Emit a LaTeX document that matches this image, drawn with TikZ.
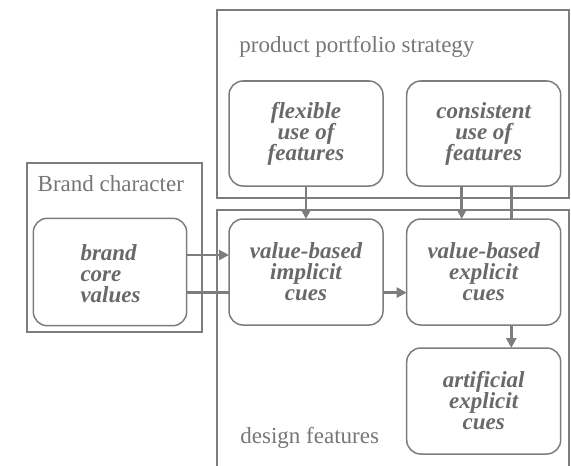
\documentclass[tikz,border=0pt]{standalone}
\usepackage{fontspec}
\setmainfont{Liberation Serif}
\usetikzlibrary{fit,arrows.meta}
\definecolor{linegray}{RGB}{125,125,125}
\definecolor{textgray}{RGB}{105,105,105}
\definecolor{titlegray}{RGB}{118,118,118}
\newcommand{\cuefont}{\fontsize{11.5}{10.5}\selectfont\lineskiplimit=-20pt\bfseries\itshape}
\begin{document}
\begin{tikzpicture}[x=0.5pt,y=-0.5pt,
  frame/.style={draw=linegray,line width=1pt,inner sep=0pt,outer sep=0pt},
  cue/.style={draw=linegray,line width=0.75pt,rounded corners=7pt,inner sep=0pt,outer sep=0pt},
  cuetext/.style={text width=70pt,align=flush center,inner sep=0pt,text=textgray,font=\cuefont},
  title/.style={text=titlegray,font=\fontsize{11.5}{13}\selectfont,inner sep=0pt,anchor=base west},
  link/.style={draw=linegray,line width=1.3pt},
  arrow/.style={link,-{Triangle[length=5pt,width=5pt]}}]
\useasboundingbox (0,0) rectangle (571,465);
\clip (0,0) rectangle (571,465);
% containers
\node[frame,fit={(216.7,10) (569,198)}] (pps) {};
\node[frame,fit={(26.7,162.7) (201.7,331.7)}] (bc) {};
\node[frame,fit={(216.7,210) (569,490)}] (df) {};
\node[title] (ppsT) at (239,53) {product portfolio strategy};
\node[title] (bcT) at (37.3,191.5) {Brand character};
\node[title] (dfT) at (240,443) {design features};
% cues
\node[cue,fit={(229,81) (383,186)}] (flex) {};
\node[cue,fit={(406.7,81) (560.7,186)}] (cons) {};
\node[cue,fit={(33.3,218.3) (186.7,325.7)}] (bcv) {};
\node[cue,fit={(229,219) (383,325)}] (impl) {};
\node[cue,fit={(406.7,219) (560.7,325)}] (expl) {};
\node[cue,fit={(406.7,348) (560.7,454)}] (art) {};
\node[cuetext] (flexT) at (flex.center) {flexible\\use of\\features};
\node[cuetext] (consT) at (cons.center) {consistent\\use of\\features};
\node[cuetext,text width=29.5pt,align=flush left] (bcvT) at ([yshift=-1pt]bcv.center) {brand\\core\\values};
\node[cuetext] (implT) at (impl.center) {value-based\\implicit\\cues};
\node[cuetext] (explT) at (expl.center) {value-based\\explicit\\cues};
\node[cuetext] (artT) at (art.center) {artificial\\explicit\\cues};
% connectors
\draw[arrow] (flex.south) -- (impl.north);
\draw[arrow] ([xshift=-11pt]cons.south) -- ([xshift=-11pt]expl.north);
\draw[link] ([xshift=13.8pt]cons.south) -- ([xshift=13.8pt]expl.north);
\draw[arrow] ([xshift=13.8pt]expl.south) -- ([xshift=13.8pt]art.north);
\draw[arrow] ([yshift=-10.3pt]impl.east) -- ([yshift=-10.3pt]expl.west);
\draw[arrow] ([yshift=8.5pt]bcv.east) -- ([yshift=8.5pt]impl.west);
\draw[link] ([yshift=-10.3pt]bcv.east) -- ([yshift=-10.3pt]impl.west);
\end{tikzpicture}
\end{document}
